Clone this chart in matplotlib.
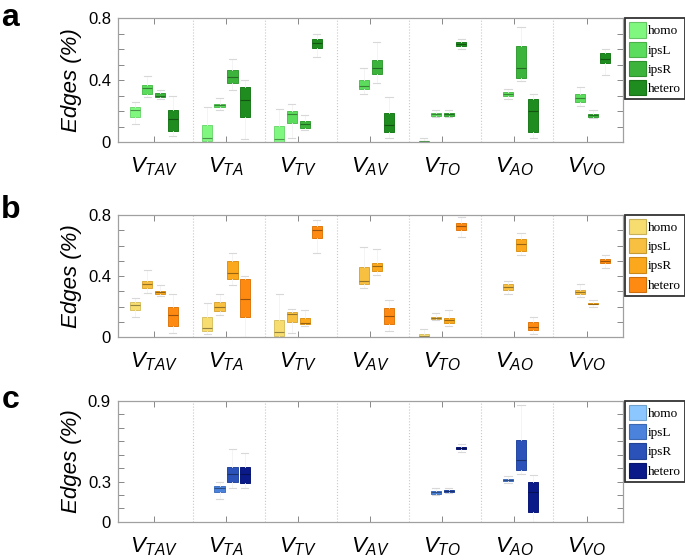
import matplotlib
matplotlib.use('Agg')
import matplotlib.pyplot as plt
import numpy as np
from matplotlib.patches import Patch

plt.rcParams['font.family'] = ['Liberation Sans', 'DejaVu Sans']
plt.rcParams['mathtext.fontset'] = 'custom'
plt.rcParams['mathtext.it'] = 'Liberation Sans:italic'
plt.rcParams['mathtext.rm'] = 'Liberation Sans'

groups = ['$V_{TAV}$', '$V_{TA}$', '$V_{TV}$', '$V_{AV}$', '$V_{TO}$', '$V_{AO}$', '$V_{VO}$']
categories = ['homo', 'ipsL', 'ipsR', 'hetero']
nan = np.nan

# panel a (green): rows = groups, columns = homo, ipsL, ipsR, hetero
a_q1 = [[0.16, 0.31, 0.29, 0.07], [0.01, 0.23, 0.385, 0.16], [0.0, 0.125, 0.095, 0.61], [nan, 0.345, 0.44, 0.065],
        [0.0, 0.17, 0.17, 0.62], [nan, 0.30, 0.415, 0.065], [nan, 0.26, 0.165, 0.51]]
a_med = [[0.21, 0.35, 0.30, 0.15], [0.03, 0.24, 0.42, 0.27], [0.02, 0.185, 0.12, 0.64], [nan, 0.365, 0.48, 0.11],
         [0.005, 0.18, 0.18, 0.635], [nan, 0.31, 0.48, 0.20], [nan, 0.285, 0.175, 0.54]]
a_q3 = [[0.23, 0.37, 0.32, 0.21], [0.11, 0.25, 0.465, 0.355], [0.105, 0.20, 0.14, 0.67], [nan, 0.40, 0.53, 0.19],
        [0.01, 0.19, 0.19, 0.645], [nan, 0.325, 0.625, 0.28], [nan, 0.31, 0.185, 0.575]]
a_lo = [[0.12, 0.29, 0.28, 0.04], [0.0, 0.21, 0.34, 0.02], [0.0, 0.03, 0.08, 0.55], [nan, 0.31, 0.385, 0.03],
        [0.0, 0.16, 0.16, 0.60], [nan, 0.28, 0.395, 0.03], [nan, 0.235, 0.155, 0.435]]
a_hi = [[0.26, 0.43, 0.34, 0.30], [0.23, 0.285, 0.54, 0.40], [0.215, 0.245, 0.175, 0.70], [nan, 0.48, 0.65, 0.29],
        [0.025, 0.21, 0.21, 0.67], [nan, 0.345, 0.745, 0.31], [nan, 0.36, 0.21, 0.60]]

# panel b (orange)
b_q1 = [[0.18, 0.32, 0.285, 0.07], [0.04, 0.17, 0.38, 0.135], [0.01, 0.10, 0.085, 0.65], [nan, 0.345, 0.435, 0.085],
        [0.0, 0.12, 0.095, 0.705], [nan, 0.31, 0.565, 0.045], [nan, 0.28, 0.215, 0.485]]
b_med = [[0.21, 0.345, 0.295, 0.145], [0.06, 0.20, 0.42, 0.25], [0.035, 0.15, 0.095, 0.705], [nan, 0.37, 0.465, 0.14],
         [0.01, 0.127, 0.11, 0.73], [nan, 0.33, 0.61, 0.065], [nan, 0.295, 0.22, 0.50]]
b_q3 = [[0.23, 0.365, 0.305, 0.195], [0.135, 0.23, 0.50, 0.38], [0.115, 0.165, 0.125, 0.73], [nan, 0.46, 0.485, 0.19],
        [0.02, 0.135, 0.127, 0.745], [nan, 0.345, 0.645, 0.10], [nan, 0.31, 0.225, 0.515]]
b_lo = [[0.135, 0.29, 0.27, 0.03], [0.02, 0.145, 0.34, 0.0], [0.0, 0.03, 0.07, 0.55], [nan, 0.325, 0.41, 0.04],
        [0.0, 0.11, 0.075, 0.655], [nan, 0.285, 0.535, 0.02], [nan, 0.265, 0.20, 0.45]]
b_hi = [[0.255, 0.44, 0.34, 0.285], [0.225, 0.285, 0.55, 0.40], [0.28, 0.185, 0.175, 0.77], [nan, 0.59, 0.58, 0.245],
        [0.055, 0.155, 0.18, 0.79], [nan, 0.37, 0.68, 0.135], [nan, 0.345, 0.24, 0.535]]

# panel c (blue)
c_q1 = [[nan] * 4, [nan, 0.225, 0.30, 0.29], [nan] * 4, [nan] * 4,
        [nan, 0.21, 0.225, 0.54], [nan, 0.305, 0.39, 0.075], [nan] * 4]
c_med = [[nan] * 4, [nan, 0.25, 0.36, 0.36], [nan] * 4, [nan] * 4,
         [nan, 0.22, 0.23, 0.55], [nan, 0.31, 0.46, 0.225], [nan] * 4]
c_q3 = [[nan] * 4, [nan, 0.27, 0.41, 0.41], [nan] * 4, [nan] * 4,
        [nan, 0.23, 0.235, 0.56], [nan, 0.32, 0.61, 0.30], [nan] * 4]
c_lo = [[nan] * 4, [nan, 0.17, 0.255, 0.255], [nan] * 4, [nan] * 4,
        [nan, 0.20, 0.215, 0.52], [nan, 0.29, 0.36, 0.0], [nan] * 4]
c_hi = [[nan] * 4, [nan, 0.30, 0.54, 0.51], [nan] * 4, [nan] * 4,
        [nan, 0.25, 0.255, 0.58], [nan, 0.34, 0.87, 0.35], [nan] * 4]

greens = ['#80f880', '#5cdc5c', '#3cb43c', '#1f8c1f']
oranges = ['#f7dc70', '#f8c040', '#fca81c', '#ff8a12']
blues = ['#8cc8ff', '#4a82dc', '#2a52b8', '#0a1a88']

offsets = [-0.26, -0.09, 0.09, 0.26]


def darker(c, f=0.75):
    r, g, b = matplotlib.colors.to_rgb(c)
    return (r * f, g * f, b * f)


def draw_panel(ax, q1, med, q3, lo, hi, colors, ymax, yticks, ylabels):
    for gi in range(len(groups)):
        for ci in range(len(categories)):
            if np.isnan(med[gi][ci]):
                continue
            st = dict(med=med[gi][ci], q1=q1[gi][ci], q3=q3[gi][ci],
                      whislo=lo[gi][ci], whishi=hi[gi][ci], fliers=[])
            col = colors[ci]
            ax.bxp([st], positions=[gi + 1 + offsets[ci]], widths=0.14,
                   patch_artist=True, showfliers=False, capwidths=0.1,
                   boxprops=dict(facecolor=col, edgecolor=darker(col, 0.88), linewidth=0.7),
                   medianprops=dict(color=darker(col, 0.6), linewidth=0.8),
                   whiskerprops=dict(color='#f2f2f2', linewidth=0.6),
                   capprops=dict(color='#d8d8d8', linewidth=0.8))
    for k in range(1, len(groups)):
        ax.axvline(k + 0.54, color='#c8c8c8', linestyle=':', linewidth=0.8, zorder=0)
    ax.set_xlim(0.5, len(groups) + 0.5)
    ax.set_ylim(0, ymax)
    ax.set_xticks(range(1, len(groups) + 1), groups, fontsize=16)
    ax.set_yticks(yticks, ylabels, fontsize=12)
    ax.tick_params(axis='both', direction='in', top=True, right=True, length=4,
                   color='#888888', width=0.7)
    ax.tick_params(axis='x', pad=9.5)
    ax.tick_params(axis='y', pad=5)
    for sp in ax.spines.values():
        sp.set_color('#a0a0a0')
        sp.set_linewidth(0.9)
    ax.set_ylabel('Edges (%)', fontsize=16, style='italic', labelpad=4)
    handles = [Patch(facecolor=c, edgecolor=darker(c, 0.8), linewidth=0.8) for c in colors]
    leg = ax.legend(handles, categories, loc='upper left', bbox_to_anchor=(1.005, 1.0),
                    prop=dict(family='Liberation Serif', size=9.5), frameon=True,
                    fancybox=False, borderpad=0.3, handlelength=1.3, handleheight=1.4,
                    handletextpad=0.15, labelspacing=0.3, borderaxespad=0.0)
    leg.get_frame().set_edgecolor('black')
    leg.get_frame().set_linewidth(1.3)


fig = plt.figure(figsize=(6.85, 5.6), dpi=100)
ax_a = fig.add_axes([0.172, 0.746, 0.737, 0.221])
ax_b = fig.add_axes([0.172, 0.398, 0.737, 0.218])
ax_c = fig.add_axes([0.172, 0.068, 0.737, 0.216])

ticks8 = [0, 0.1, 0.2, 0.3, 0.4, 0.5, 0.6, 0.7, 0.8]
labels8 = ['0', '', '', '', '0.4', '', '', '', '0.8']
ticks9 = [0, 0.1, 0.2, 0.3, 0.4, 0.5, 0.6, 0.7, 0.8, 0.9]
labels9 = ['0', '', '', '0.3', '', '', '', '', '', '0.9']

draw_panel(ax_a, a_q1, a_med, a_q3, a_lo, a_hi, greens, 0.8, ticks8, labels8)
draw_panel(ax_b, b_q1, b_med, b_q3, b_lo, b_hi, oranges, 0.8, ticks8, labels8)
draw_panel(ax_c, c_q1, c_med, c_q3, c_lo, c_hi, blues, 0.9, ticks9, labels9)

fig.text(0.002, 1 - 26 / 560, 'a', fontsize=23, fontweight='bold', va='baseline')
fig.text(0.002, 1 - 218 / 560, 'b', fontsize=23, fontweight='bold', va='baseline')
fig.text(0.002, 1 - 408 / 560, 'c', fontsize=23, fontweight='bold', va='baseline')

fig.savefig('out.png', dpi=100)
